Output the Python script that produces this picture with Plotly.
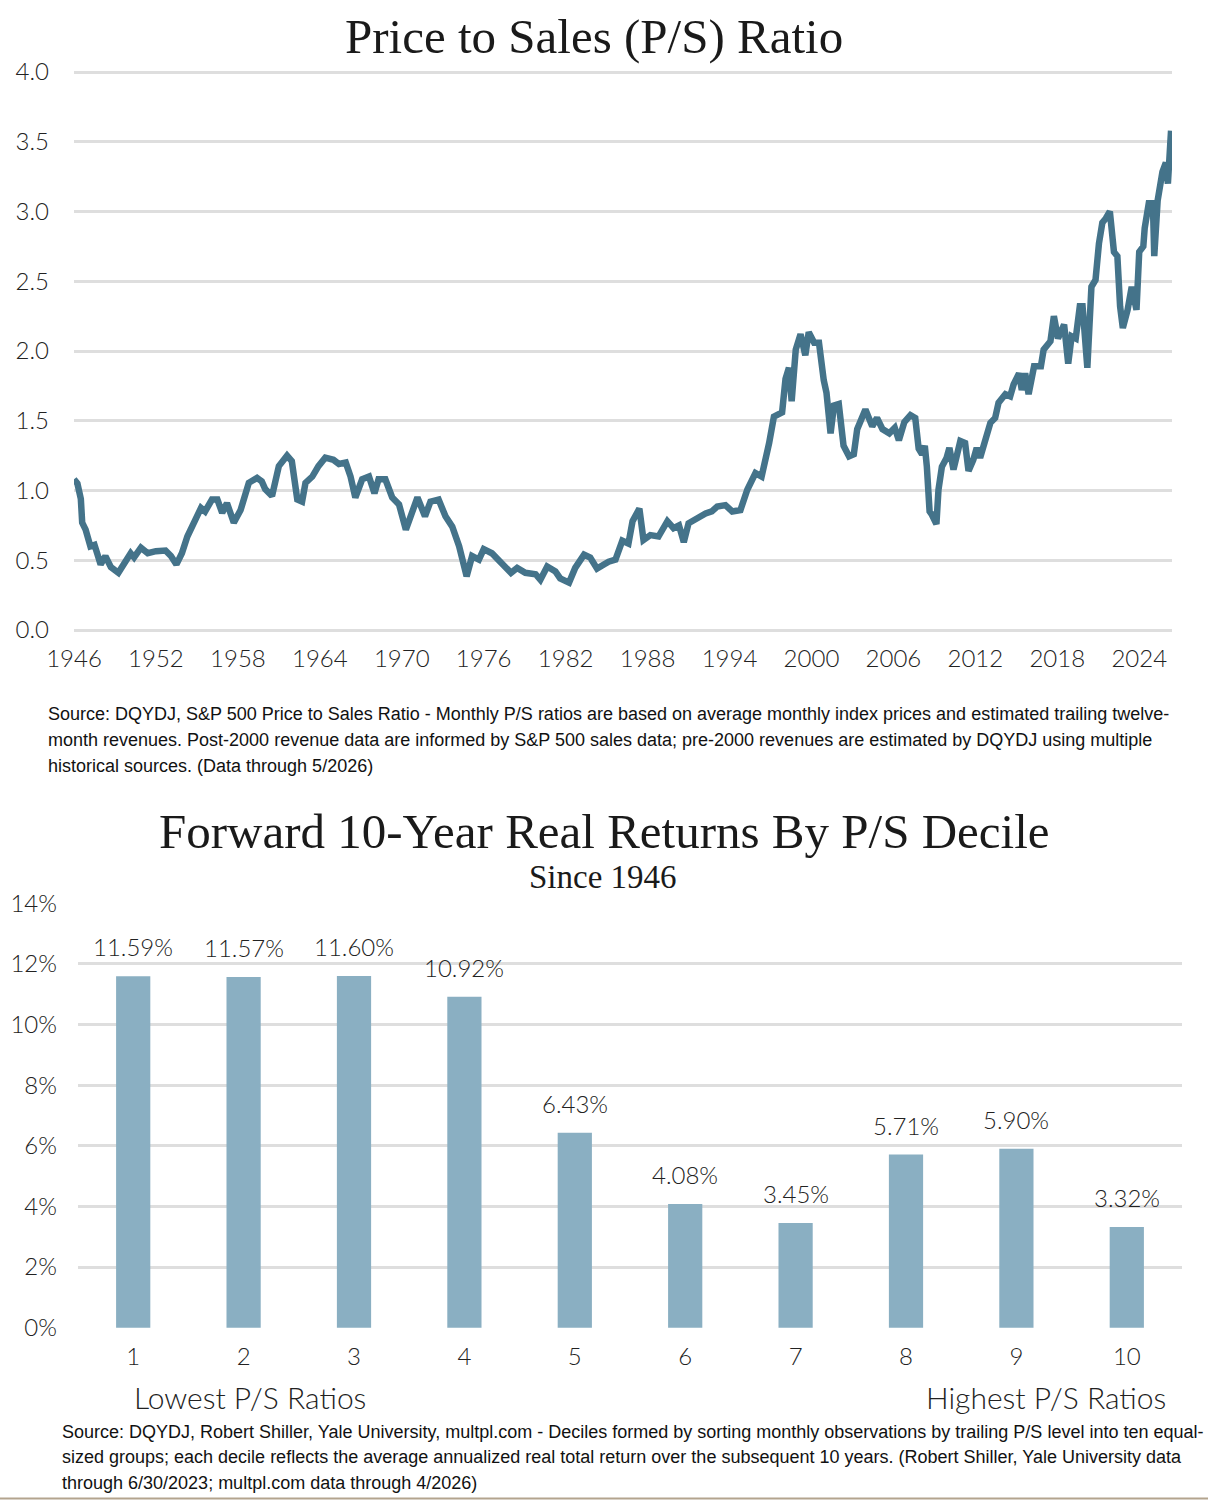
import plotly.graph_objects as go

# ---- Data: S&P 500 Price to Sales ratio (decimal year) ----
ps_year = [
    1946.0, 1946.25, 1946.5, 1946.6, 1946.85, 1947.2, 1947.5, 1947.95, 1948.3, 1948.7,
    1949.25, 1949.8, 1950.15, 1950.4, 1950.9, 1951.4, 1952.0, 1952.7, 1953.1, 1953.5,
    1953.9, 1954.3, 1954.8, 1955.3, 1955.6, 1956.1, 1956.5, 1956.85, 1957.2, 1957.7,
    1958.2, 1958.8, 1959.4, 1959.75, 1960.0, 1960.5, 1961.0, 1961.6, 1961.95, 1962.35,
    1962.7, 1962.95, 1963.45, 1963.9, 1964.4, 1965.0, 1965.4, 1965.9, 1966.25, 1966.6,
    1967.1, 1967.6, 1968.0, 1968.3, 1968.8, 1969.3, 1969.8, 1970.3, 1970.65, 1971.15,
    1971.7, 1972.1, 1972.7, 1973.2, 1973.7, 1974.2, 1974.75, 1975.15, 1975.65, 1976.0,
    1976.6, 1977.2, 1978.0, 1978.45, 1979.05, 1979.8, 1980.15, 1980.65, 1981.25, 1981.6,
    1982.25, 1982.7, 1983.35, 1983.8, 1984.3, 1984.8, 1985.15, 1985.65, 1986.15, 1986.6,
    1986.9, 1987.4, 1987.7, 1988.2, 1988.8, 1989.45, 1989.9, 1990.3, 1990.65, 1991.0,
    1991.75, 1992.25, 1992.7, 1993.1, 1993.7, 1994.2, 1994.8, 1995.3, 1995.9, 1996.35,
    1996.9, 1997.25, 1997.85, 1998.1, 1998.35, 1998.55, 1998.85, 1999.2, 1999.55, 1999.8,
    2000.2, 2000.55, 2000.9, 2001.1, 2001.4, 2001.65, 2002.0, 2002.35, 2002.75, 2003.1,
    2003.35, 2003.95, 2004.45, 2004.8, 2005.2, 2005.7, 2006.1, 2006.4, 2006.8, 2007.25,
    2007.6, 2007.85, 2008.1, 2008.3, 2008.45, 2008.65, 2008.8, 2009.15, 2009.3, 2009.55,
    2009.9, 2010.1, 2010.4, 2010.9, 2011.25, 2011.5, 2011.85, 2012.1, 2012.35, 2012.7,
    2013.1, 2013.45, 2013.7, 2014.2, 2014.55, 2014.8, 2015.2, 2015.4, 2015.65, 2015.9,
    2016.3, 2016.8, 2017.0, 2017.5, 2017.75, 2018.05, 2018.5, 2018.8, 2019.05, 2019.35,
    2019.65, 2019.85, 2020.2, 2020.5, 2020.8, 2021.05, 2021.3, 2021.55, 2021.85, 2022.15,
    2022.4, 2022.6, 2022.8, 2023.15, 2023.45, 2023.8, 2024.0, 2024.3, 2024.4, 2024.7,
    2025.0, 2025.1, 2025.35, 2025.7, 2025.95, 2026.1, 2026.33,
]
ps_value = [
    1.08, 1.05, 0.94, 0.77, 0.72, 0.60, 0.61, 0.47, 0.53, 0.45,
    0.41, 0.51, 0.55, 0.52, 0.59, 0.55, 0.565, 0.57, 0.53, 0.47,
    0.55, 0.67, 0.78, 0.875, 0.85, 0.935, 0.935, 0.84, 0.91, 0.77,
    0.86, 1.055, 1.09, 1.065, 1.01, 0.96, 1.175, 1.25, 1.21, 0.935,
    0.92, 1.055, 1.10, 1.175, 1.235, 1.22, 1.19, 1.20, 1.10, 0.95,
    1.08, 1.10, 0.98, 1.08, 1.08, 0.95, 0.90, 0.72, 0.815, 0.95,
    0.815, 0.92, 0.935, 0.815, 0.74, 0.60, 0.385, 0.53, 0.505, 0.58,
    0.55, 0.49, 0.41, 0.445, 0.41, 0.40, 0.36, 0.455, 0.42, 0.37,
    0.34, 0.445, 0.54, 0.52, 0.44, 0.47, 0.49, 0.505, 0.64, 0.62,
    0.78, 0.87, 0.645, 0.68, 0.67, 0.78, 0.73, 0.75, 0.63, 0.765,
    0.81, 0.835, 0.85, 0.885, 0.895, 0.85, 0.86, 1.005, 1.125, 1.10,
    1.34, 1.53, 1.56, 1.80, 1.88, 1.64, 2.01, 2.12, 1.97, 2.135,
    2.06, 2.06, 1.79, 1.70, 1.41, 1.61, 1.62, 1.32, 1.245, 1.26,
    1.44, 1.58, 1.46, 1.52, 1.44, 1.41, 1.45, 1.36, 1.49, 1.54,
    1.52, 1.30, 1.26, 1.32, 1.17, 0.85, 0.83, 0.76, 1.005, 1.17,
    1.235, 1.305, 1.15, 1.355, 1.34, 1.14, 1.22, 1.305, 1.235, 1.34,
    1.485, 1.52, 1.63, 1.69, 1.675, 1.76, 1.84, 1.72, 1.84, 1.69,
    1.89, 1.89, 2.01, 2.07, 2.25, 2.09, 2.19, 1.91, 2.105, 2.09,
    2.32, 2.32, 1.88, 2.46, 2.51, 2.77, 2.92, 2.95, 3.00, 2.71,
    2.68, 2.32, 2.165, 2.295, 2.46, 2.295, 2.71, 2.75, 2.88, 3.06,
    3.06, 2.68, 3.08, 3.285, 3.35, 3.20, 3.58,
]
year_ticks = [1946, 1952, 1958, 1964, 1970, 1976, 1982, 1988, 1994, 2000, 2006, 2012, 2018, 2024]
ps_ticks = [0.0, 0.5, 1.0, 1.5, 2.0, 2.5, 3.0, 3.5, 4.0]

# ---- Data: forward 10-year real returns by P/S decile ----
deciles = ["1", "2", "3", "4", "5", "6", "7", "8", "9", "10"]
decile_returns = [11.59, 11.57, 11.60, 10.92, 6.43, 4.08, 3.45, 5.71, 5.90, 3.32]
return_ticks = [0, 2, 4, 6, 8, 10, 12, 14]

source_top = [
    "Source: DQYDJ, S&P 500 Price to Sales Ratio - Monthly P/S ratios are based on average monthly index prices and estimated trailing twelve-",
    "month revenues. Post-2000 revenue data are informed by S&P 500 sales data; pre-2000 revenues are estimated by DQYDJ using multiple",
    "historical sources. (Data through 5/2026)",
]
source_bottom = [
    "Source: DQYDJ, Robert Shiller, Yale University, multpl.com - Deciles formed by sorting monthly observations by trailing P/S level into ten equal-",
    "sized groups; each decile reflects the average annualized real total return over the subsequent 10 years. (Robert Shiller, Yale University data",
    "through 6/30/2023; multpl.com data through 4/2026)",
]

W, H = 1208, 1500
LINE_COLOR = "#44738A"
BAR_COLOR = "#8AAFC2"
GRID = "#DEDEDE"
TICK_FONT = dict(family="Lato", size=24, color="#222222", weight=300)
SERIF = "Liberation Serif"
NARROW = "Liberation Sans Narrow, Liberation Sans, Arial, sans-serif"


def px_x(p):
    return p / W


def px_y(p):
    return 1 - p / H


fig = go.Figure()
fig.add_trace(go.Scatter(
    x=ps_year, y=ps_value, mode="lines",
    line=dict(color=LINE_COLOR, width=6.5),
    xaxis="x", yaxis="y", showlegend=False, hoverinfo="x+y",
))
fig.add_trace(go.Bar(
    x=deciles, y=decile_returns, marker=dict(color=BAR_COLOR, line=dict(width=0)),
    width=0.31, xaxis="x2", yaxis="y2", showlegend=False,
))

annotations = [
    dict(text="Price to Sales (P/S) Ratio", x=px_x(594), y=px_y(37), xref="paper", yref="paper",
         xanchor="center", yanchor="middle", showarrow=False,
         font=dict(family=SERIF, size=49, color="#1a1a1a")),
    dict(text="Forward 10-Year Real Returns By P/S Decile", x=px_x(604), y=px_y(831),
         xref="paper", yref="paper", xanchor="center", yanchor="middle", showarrow=False,
         font=dict(family=SERIF, size=49, color="#1a1a1a")),
    dict(text="Since 1946", x=px_x(603), y=px_y(877), xref="paper", yref="paper",
         xanchor="center", yanchor="middle", showarrow=False,
         font=dict(family=SERIF, size=33, color="#1a1a1a")),
    dict(text="Lowest P/S Ratios", x=px_x(250), y=px_y(1397), xref="paper", yref="paper",
         xanchor="center", yanchor="middle", showarrow=False,
         font=dict(family="Lato", size=30, color="#222222", weight=300)),
    dict(text="Highest P/S Ratios", x=px_x(1046), y=px_y(1397), xref="paper", yref="paper",
         xanchor="center", yanchor="middle", showarrow=False,
         font=dict(family="Lato", size=30, color="#222222", weight=300)),
]
for line_text, ypx in zip(source_top, [714, 740, 766]):
    annotations.append(dict(text=line_text, x=px_x(46), y=px_y(ypx), xref="paper", yref="paper",
                            xanchor="left", yanchor="middle", align="left", showarrow=False,
                            font=dict(family=NARROW, size=18, color="#111111")))
for line_text, ypx in zip(source_bottom, [1432, 1457, 1483]):
    annotations.append(dict(text=line_text, x=px_x(60), y=px_y(ypx), xref="paper", yref="paper",
                            xanchor="left", yanchor="middle", align="left", showarrow=False,
                            font=dict(family=NARROW, size=18, color="#111111")))
for i, v in enumerate(decile_returns):
    annotations.append(dict(
        text=f"{v:.2f}%", x=i, y=v, xref="x2", yref="y2", xanchor="center", yanchor="bottom",
        yshift=13, showarrow=False, font=TICK_FONT,
    ))

PX_PER_UNIT = (630 - 72) / 4.0
PAD = 0.02
PAD_PX = PAD * PX_PER_UNIT

fig.update_layout(
    width=W, height=H,
    margin=dict(l=0, r=0, t=0, b=0, autoexpand=False),
    paper_bgcolor="white", plot_bgcolor="white",
    font=TICK_FONT,
    showlegend=False,
    bargap=0.69,
    xaxis=dict(
        domain=[px_x(74), px_x(1172)], anchor="y", range=[1946, 2026.4], automargin=False,
        tickmode="array", tickvals=year_ticks, ticktext=[str(t) for t in year_ticks],
        showgrid=False, zeroline=False, showline=False, ticks="",
        ticklabelstandoff=9, tickfont=TICK_FONT,
    ),
    yaxis=dict(
        domain=[px_y(630 + PAD_PX), px_y(72 - PAD_PX)], anchor="x",
        range=[-PAD, 4 + PAD], automargin=False,
        tickmode="array", tickvals=ps_ticks, ticktext=[f"{t:.1f}" for t in ps_ticks],
        showgrid=True, gridcolor=GRID, gridwidth=3, zeroline=False, showline=False, ticks="",
        ticklabelstandoff=24, tickfont=TICK_FONT,
    ),
    xaxis2=dict(
        domain=[px_x(78), px_x(1182)], anchor="y2", type="category", range=[-0.5, 9.5],
        automargin=False, showgrid=False, zeroline=False, showline=False, ticks="",
        ticklabelstandoff=12, tickfont=TICK_FONT,
    ),
    yaxis2=dict(
        domain=[px_y(1328), px_y(903)], anchor="x2", range=[-0.01, 14.01], automargin=False,
        tickmode="array", tickvals=return_ticks, ticktext=[f"{t}%" for t in return_ticks],
        showgrid=True, gridcolor=GRID, gridwidth=3, zeroline=False, showline=False, ticks="",
        ticklabelstandoff=20, tickfont=TICK_FONT,
    ),
    annotations=annotations,
    shapes=[dict(type="line", xref="paper", yref="paper", x0=0, x1=1, y0=px_y(1498.5), y1=px_y(1498.5),
                 line=dict(color="#B3A48E", width=2))],
)

fig.write_html("out.html")
